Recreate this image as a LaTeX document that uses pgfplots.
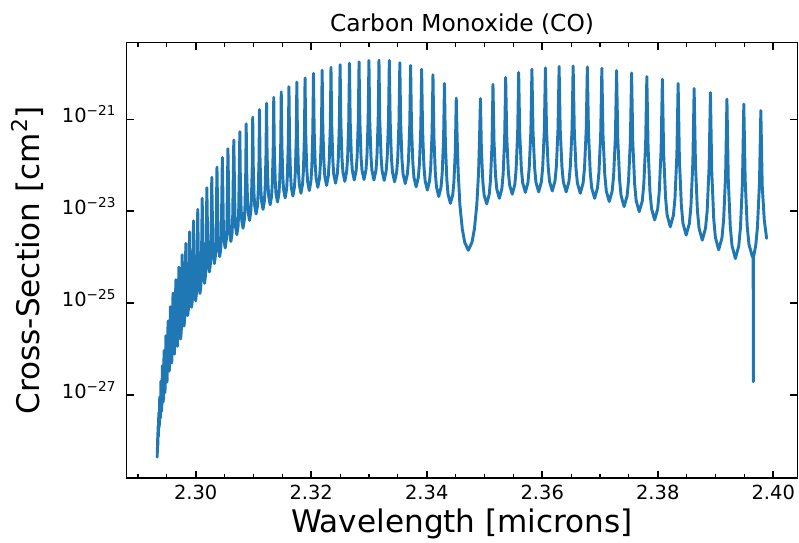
\documentclass[border=0pt]{standalone}
\usepackage{fontspec}
\setmainfont{DejaVu Sans}
\usepackage{pgfplots}
\pgfplotsset{compat=1.18}
\definecolor{mplblue}{HTML}{1F77B4}
\begin{document}
\begin{tikzpicture}
\useasboundingbox (0,0) rectangle (410.96pt,278.78pt);
\begin{axis}[
  at={(65.17pt,33.07pt)}, anchor=south west,
  scale only axis, width=344.9pt, height=223.75pt,
  xmin=2.28805, xmax=2.40416, ymin=-28.80, ymax=-19.333,
  xtick={2.30,2.32,2.34,2.36,2.38,2.40},
  xticklabels={2.30,2.32,2.34,2.36,2.38,2.40},
  minor xtick={2.290,2.295,2.305,2.310,2.315,2.325,2.330,2.335,2.345,2.350,2.355,2.365,2.370,2.375,2.385,2.390,2.395},
  ytick={-27,-25,-23,-21},
  yticklabels={10\textsuperscript{−27},10\textsuperscript{−25},10\textsuperscript{−23},10\textsuperscript{−21}},
  tick align=inside, xtick pos=both, ytick pos=both, xticklabel pos=lower, yticklabel pos=left,
  major tick length=3.5pt, minor tick length=2pt,
  major tick style={black, line width=0.8pt},
  minor tick style={black, line width=0.6pt},
  axis line style={black, line width=0.8pt},
  xticklabel style={font=\fontsize{10}{12}\selectfont, anchor=north, inner sep=0pt, yshift=-3.75pt},
  yticklabel style={font=\fontsize{10}{12}\selectfont, anchor=base east, inner sep=0pt, xshift=-5.1pt, yshift=-1.75pt},
  title={Carbon Monoxide (CO)},
  title style={font=\fontsize{12}{14}\selectfont, at={(0.5,1)}, anchor=base, inner sep=0pt},
  xlabel={Wavelength [microns]},
  xlabel style={font=\fontsize{16}{19}\selectfont, at={(axis description cs:0.5,-0.127)}, anchor=base, inner sep=0pt},
  ylabel={Cross-Section [cm\textsuperscript{2}]},
  ylabel style={font=\fontsize{16}{19}\selectfont, at={(axis description cs:-0.1302,0.5)}, anchor=base, inner sep=0pt},
  /pgf/number format/assume math mode=true,
]
\addplot[mplblue, line width=1.5pt, line join=round, line cap=round] coordinates {
(2.29333,-28.35)
(2.293344,-28.15) (2.293367,-28.25)
(2.293389,-27.95) (2.293432,-28.10)
(2.293474,-27.68) (2.293539,-27.90)
(2.293603,-27.38) (2.293686,-27.70)
(2.293768,-27.04) (2.293874,-27.50)
(2.29398,-26.70) (2.29411,-27.35)
(2.29423,-26.36) (2.29438,-27.15)
(2.29452,-26.03) (2.29468,-26.95)
(2.29484,-25.71) (2.29503,-26.72)
(2.29521,-25.39) (2.29542,-26.48)
(2.29562,-25.08) (2.29585,-26.30)
(2.29607,-24.78) (2.29632,-26.11)
(2.29656,-24.49) (2.29683,-25.94)
(2.29709,-24.22)
(2.29720,-25.47) (2.29726,-25.66) (2.29738,-25.78) (2.29749,-25.63) (2.29755,-25.41)
(2.29766,-23.95)
(2.29778,-25.19) (2.29785,-25.38) (2.29797,-25.50) (2.29809,-25.36) (2.29816,-25.14)
(2.29828,-23.70)
(2.29841,-24.96) (2.29848,-25.14) (2.29861,-25.27) (2.29874,-25.12) (2.29880,-24.91)
(2.29893,-23.45)
(2.29907,-24.76) (2.29914,-24.96) (2.29928,-25.09) (2.29941,-24.94) (2.29948,-24.71)
(2.29962,-23.21)
(2.29977,-24.60) (2.29984,-24.81) (2.29999,-24.95) (2.30013,-24.79) (2.30020,-24.55)
(2.30035,-22.96)
(2.30050,-24.42) (2.30058,-24.64) (2.30074,-24.79) (2.30089,-24.62) (2.30097,-24.38)
(2.30112,-22.72)
(2.30128,-24.20) (2.30136,-24.42) (2.30153,-24.57) (2.30169,-24.40) (2.30177,-24.15)
(2.30193,-22.49)
(2.30210,-23.95) (2.30219,-24.17) (2.30236,-24.32) (2.30253,-24.16) (2.30261,-23.91)
(2.30278,-22.26)
(2.30296,-23.76) (2.30305,-23.99) (2.30323,-24.14) (2.30341,-23.97) (2.30350,-23.72)
(2.30368,-22.04)
(2.30387,-23.60) (2.30396,-23.83) (2.30415,-23.99) (2.30433,-23.82) (2.30442,-23.56)
(2.30461,-21.83)
(2.30480,-23.41) (2.30490,-23.64) (2.30510,-23.80) (2.30529,-23.63) (2.30539,-23.37)
(2.30558,-21.64)
(2.30578,-23.26) (2.30588,-23.50) (2.30609,-23.66) (2.30629,-23.48) (2.30639,-23.22)
(2.30659,-21.45)
(2.30680,-23.10) (2.30691,-23.35) (2.30712,-23.51) (2.30733,-23.33) (2.30743,-23.06)
(2.30764,-21.27)
(2.30773,-22.32) (2.30786,-22.95) (2.30797,-23.20) (2.30819,-23.37) (2.30841,-23.19) (2.30852,-22.92) (2.30865,-22.24)
(2.30874,-21.10)
(2.30883,-22.15) (2.30897,-22.78) (2.30908,-23.03) (2.30931,-23.20) (2.30953,-23.02) (2.30964,-22.75) (2.30978,-22.08)
(2.30987,-20.95)
(2.30996,-22.01) (2.31010,-22.64) (2.31022,-22.89) (2.31046,-23.06) (2.31069,-22.88) (2.31081,-22.61) (2.31095,-21.93)
(2.31104,-20.79)
(2.31114,-21.88) (2.31128,-22.53) (2.31141,-22.79) (2.31165,-22.96) (2.31189,-22.78) (2.31202,-22.50) (2.31216,-21.81)
(2.31226,-20.65)
(2.31236,-21.76) (2.31251,-22.42) (2.31264,-22.68) (2.31289,-22.86) (2.31314,-22.67) (2.31326,-22.39) (2.31341,-21.69)
(2.31351,-20.52)
(2.31361,-21.66) (2.31377,-22.34) (2.31390,-22.62) (2.31416,-22.80) (2.31442,-22.61) (2.31455,-22.32) (2.31471,-21.60)
(2.31481,-20.40)
(2.31492,-21.56) (2.31508,-22.25) (2.31521,-22.53) (2.31548,-22.71) (2.31574,-22.52) (2.31587,-22.23) (2.31603,-21.50)
(2.31614,-20.29)
(2.31625,-21.48) (2.31641,-22.19) (2.31655,-22.48) (2.31683,-22.67) (2.31710,-22.47) (2.31724,-22.17) (2.31740,-21.43)
(2.31751,-20.19)
(2.31762,-21.40) (2.31779,-22.13) (2.31794,-22.42) (2.31822,-22.61) (2.31850,-22.41) (2.31865,-22.11) (2.31882,-21.36)
(2.31893,-20.10)
(2.31905,-21.33) (2.31922,-22.06) (2.31937,-22.35) (2.31966,-22.55) (2.31995,-22.35) (2.32010,-22.04) (2.32027,-21.28)
(2.32039,-20.00)
(2.32051,-21.24) (2.32069,-21.98) (2.32084,-22.28) (2.32114,-22.48) (2.32144,-22.28) (2.32159,-21.97) (2.32177,-21.21)
(2.32189,-19.93)
(2.32201,-21.19) (2.32220,-21.94) (2.32235,-22.24) (2.32266,-22.44) (2.32296,-22.23) (2.32311,-21.93) (2.32330,-21.16)
(2.32342,-19.87)
(2.32355,-21.13) (2.32374,-21.89) (2.32389,-22.19) (2.32421,-22.39) (2.32453,-22.18) (2.32468,-21.87) (2.32487,-21.10)
(2.32500,-19.81)
(2.32513,-21.08) (2.32532,-21.84) (2.32549,-22.15) (2.32581,-22.35) (2.32613,-22.14) (2.32630,-21.84) (2.32649,-21.07)
(2.32662,-19.78)
(2.32675,-21.05) (2.32695,-21.81) (2.32712,-22.12) (2.32745,-22.32) (2.32778,-22.11) (2.32795,-21.81) (2.32815,-21.04)
(2.32828,-19.75)
(2.32842,-21.03) (2.32862,-21.80) (2.32879,-22.11) (2.32914,-22.31) (2.32948,-22.10) (2.32965,-21.79) (2.32985,-21.02)
(2.32999,-19.72)
(2.33013,-21.02) (2.33034,-21.80) (2.33051,-22.11) (2.33086,-22.32) (2.33121,-22.11) (2.33138,-21.80) (2.33159,-21.02)
(2.33173,-19.71)
(2.33187,-21.02) (2.33209,-21.81) (2.33227,-22.12) (2.33263,-22.33) (2.33298,-22.12) (2.33316,-21.81) (2.33338,-21.03)
(2.33352,-19.72)
(2.33367,-21.04) (2.33388,-21.83) (2.33407,-22.15) (2.33443,-22.36) (2.33479,-22.15) (2.33498,-21.84) (2.33519,-21.07)
(2.33534,-19.77)
(2.33549,-21.09) (2.33571,-21.87) (2.33590,-22.19) (2.33628,-22.40) (2.33665,-22.19) (2.33684,-21.89) (2.33706,-21.12)
(2.33721,-19.83)
(2.33736,-21.15) (2.33759,-21.94) (2.33778,-22.26) (2.33817,-22.47) (2.33855,-22.26) (2.33874,-21.96) (2.33897,-21.19)
(2.33912,-19.91)
(2.33928,-21.23) (2.33951,-22.01) (2.33971,-22.33) (2.34010,-22.54) (2.34049,-22.34) (2.34069,-22.04) (2.34092,-21.29)
(2.34108,-20.03)
(2.34124,-21.36) (2.34148,-22.15) (2.34168,-22.47) (2.34208,-22.68) (2.34247,-22.48) (2.34267,-22.19) (2.34291,-21.45)
(2.34307,-20.22)
(2.34323,-21.53) (2.34348,-22.31) (2.34368,-22.62) (2.34409,-22.83) (2.34450,-22.65) (2.34470,-22.37) (2.34495,-21.69)
(2.34511,-20.54)
(2.34528,-21.47) (2.34545,-22.16) (2.34574,-22.86) (2.34616,-23.39) (2.34658,-23.68) (2.34720,-23.85) (2.34783,-23.68) (2.34825,-23.39) (2.34867,-22.86) (2.34897,-22.17) (2.34913,-21.47)
(2.34930,-20.55)
(2.34947,-21.70) (2.34973,-22.38) (2.34995,-22.66) (2.35039,-22.84) (2.35082,-22.63) (2.35104,-22.32) (2.35130,-21.54)
(2.35147,-20.24)
(2.35165,-21.48) (2.35191,-22.22) (2.35213,-22.52) (2.35257,-22.72) (2.35301,-22.51) (2.35323,-22.19) (2.35349,-21.41)
(2.35367,-20.09)
(2.35385,-21.36) (2.35412,-22.12) (2.35435,-22.43) (2.35480,-22.63) (2.35525,-22.42) (2.35547,-22.10) (2.35574,-21.31)
(2.35592,-19.98)
(2.35610,-21.29) (2.35638,-22.07) (2.35661,-22.38) (2.35707,-22.59) (2.35752,-22.38) (2.35775,-22.05) (2.35803,-21.25)
(2.35821,-19.91)
(2.35840,-21.25) (2.35868,-22.05) (2.35891,-22.37) (2.35938,-22.58) (2.35985,-22.36) (2.36008,-22.04) (2.36036,-21.23)
(2.36055,-19.88)
(2.36074,-21.22) (2.36102,-22.02) (2.36126,-22.35) (2.36174,-22.56) (2.36221,-22.34) (2.36245,-22.02) (2.36273,-21.21)
(2.36292,-19.85)
(2.36311,-21.22) (2.36341,-22.03) (2.36365,-22.36) (2.36414,-22.58) (2.36462,-22.36) (2.36486,-22.03) (2.36516,-21.21)
(2.36535,-19.84)
(2.36555,-21.23) (2.36584,-22.06) (2.36609,-22.39) (2.36658,-22.61) (2.36707,-22.39) (2.36732,-22.06) (2.36761,-21.24)
(2.36781,-19.86)
(2.36801,-21.29) (2.36831,-22.15) (2.36856,-22.49) (2.36907,-22.72) (2.36957,-22.49) (2.36982,-22.15) (2.37012,-21.31)
(2.37032,-19.89)
(2.37052,-21.34) (2.37083,-22.21) (2.37109,-22.56) (2.37160,-22.79) (2.37211,-22.56) (2.37236,-22.22) (2.37267,-21.37)
(2.37287,-19.94)
(2.37308,-21.42) (2.37339,-22.31) (2.37365,-22.66) (2.37417,-22.90) (2.37469,-22.67) (2.37495,-22.32) (2.37526,-21.45)
(2.37547,-19.99)
(2.37568,-21.50) (2.37600,-22.41) (2.37626,-22.77) (2.37679,-23.01) (2.37732,-22.78) (2.37758,-22.42) (2.37790,-21.54)
(2.37811,-20.07)
(2.37833,-21.63) (2.37865,-22.57) (2.37892,-22.94) (2.37946,-23.19) (2.37999,-22.95) (2.38026,-22.58) (2.38058,-21.66)
(2.38080,-20.13)
(2.38102,-21.74) (2.38135,-22.70) (2.38162,-23.08) (2.38217,-23.34) (2.38271,-23.09) (2.38298,-22.72) (2.38331,-21.78)
(2.38353,-20.22)
(2.38375,-21.87) (2.38408,-22.86) (2.38436,-23.26) (2.38492,-23.52) (2.38547,-23.27) (2.38575,-22.88) (2.38608,-21.93)
(2.38630,-20.33)
(2.38653,-21.98) (2.38686,-22.97) (2.38715,-23.37) (2.38771,-23.63) (2.38827,-23.37) (2.38856,-22.99) (2.38889,-22.03)
(2.38912,-20.42)
(2.38935,-22.13) (2.38969,-23.16) (2.38998,-23.57) (2.39055,-23.84) (2.39112,-23.58) (2.39141,-23.18) (2.39175,-22.20)
(2.39198,-20.56)
(2.39221,-22.30) (2.39256,-23.34) (2.39286,-23.75) (2.39344,-24.03) (2.39402,-23.76) (2.39432,-23.36) (2.39467,-22.35)
(2.39490,-20.67)
(2.39514,-22.33) (2.39549,-23.33) (2.39579,-23.72) (2.39638,-23.99) (2.39652,-24.00) (2.39655,-26.71) (2.39658,-24.00) (2.39697,-23.74) (2.39726,-23.35) (2.39761,-22.40)
(2.39785,-20.81)
(2.39809,-22.45) (2.39845,-23.20) (2.39885,-23.59)
};
\end{axis}
\end{tikzpicture}
\end{document}
